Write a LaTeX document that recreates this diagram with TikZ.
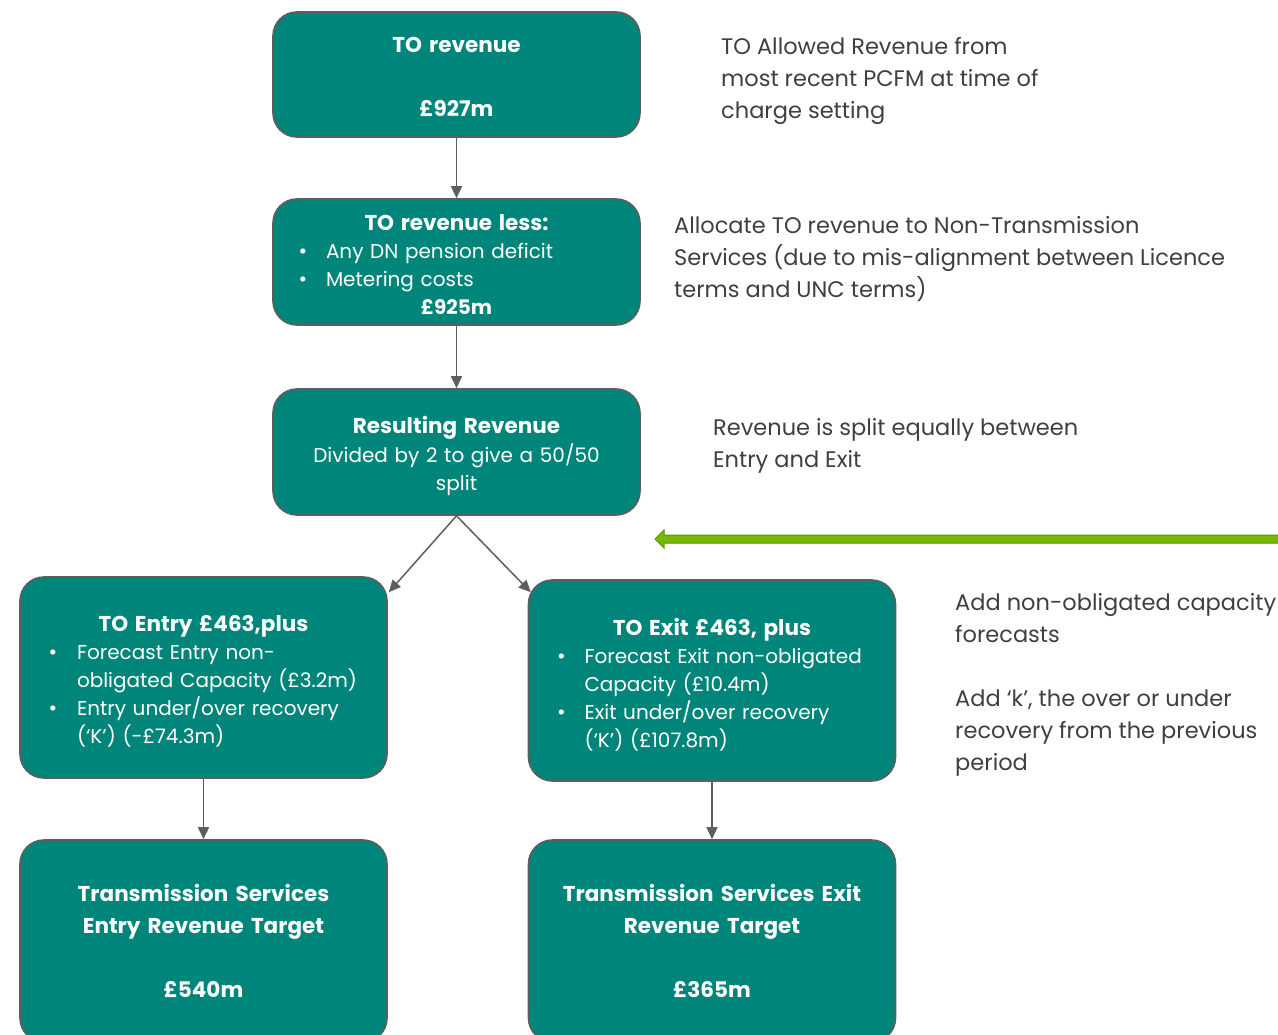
\documentclass[tikz,border=0pt]{standalone}
\usepackage{fontspec}
\setmainfont{Poppins}
\usetikzlibrary{arrows.meta,calc}
\definecolor{teal1}{HTML}{00857A}
\definecolor{edge1}{HTML}{5E5E5E}
\definecolor{txtgray}{HTML}{3F3F3F}
\definecolor{grn}{HTML}{76B900}
\definecolor{grnd}{HTML}{5A9300}
\newcommand\bitem[3]{\makebox[360pt][l]{\hspace{#1}\makebox[#2][l]{\fontsize{21}{21}\selectfont •}#3}}
\newcommand\citem[2]{\makebox[360pt][l]{\hspace{#1}#2}}
\begin{document}
\begin{tikzpicture}[x=1pt,y=-1pt,
  box/.style={draw=edge1,line width=1.6pt,fill=teal1,rounded corners=24pt,
    minimum width=367pt,inner sep=0pt},
  btext/.style={inner xsep=3.5pt,inner ysep=0pt,text width=360pt,
    align=center,text=white},
  note/.style={anchor=west,align=left,text=txtgray,inner sep=0pt,
    font=\fontsize{22.5}{32}\selectfont},
  conn/.style={draw=edge1,line width=1.5pt,-{Triangle[length=12pt,width=11pt]}}]
\useasboundingbox (0,0) rectangle (1278,1035);

% boxes
\node[box,minimum height=125pt] (b1) at (456.5,74.5) {};
\node[box,minimum height=126pt] (b2) at (456.5,262) {};
\node[box,minimum height=126pt] (b3) at (456.5,452) {};
\node[box,minimum height=201pt] (en) at (203.5,677.5) {};
\node[box,minimum height=201pt] (ex) at (712,680.5) {};
\node[box,minimum height=202pt] (tl) at (203.5,941) {};
\node[box,minimum height=202pt] (tr) at (712,941) {};

% box texts
\node[btext,font=\fontsize{21.5}{32}\selectfont\bfseries] (b1t) at ($(b1)+(0,2.5)$)
  {TO revenue\\[32pt]£927m};
\node[btext,font=\fontsize{20}{28}\selectfont] (b2t) at ($(b2)+(0,3)$)
  {{\fontsize{21.5}{29}\selectfont\bfseries TO revenue less:}\\
   \bitem{22pt}{27.5pt}{Any DN pension deficit}\\
   \bitem{22pt}{27.5pt}{Metering costs}\\
   {\bfseries£925m}};
\node[btext,font=\fontsize{20}{28.5}\selectfont] (b3t) at ($(b3)+(0,4)$)
  {{\fontsize{21.5}{29}\selectfont\bfseries Resulting Revenue}\\
   Divided by 2 to give a 50/50\\ split};
\node[btext,font=\fontsize{20}{28}\selectfont] (ent) at ($(en)+(0,4)$)
  {{\fontsize{21.5}{30}\selectfont\bfseries TO Entry £463,plus}\\
   \bitem{25pt}{28.5pt}{Forecast Entry non-}\\
   \citem{53.5pt}{obligated Capacity (£3.2m)}\\
   \bitem{25pt}{28.5pt}{Entry under/over recovery}\\
   \citem{53.5pt}{(‘K’) (-£74.3m)}};
\node[btext,font=\fontsize{20}{28}\selectfont] (ext) at ($(ex)+(0,4)$)
  {{\fontsize{21.5}{30}\selectfont\bfseries TO Exit £463, plus}\\
   \bitem{25pt}{27.5pt}{Forecast Exit non-obligated}\\
   \citem{52.5pt}{Capacity (£10.4m)}\\
   \bitem{25pt}{27.5pt}{Exit under/over recovery}\\
   \citem{52.5pt}{(‘K’) (£107.8m)}};
\node[btext,font=\fontsize{21.5}{32}\selectfont\bfseries] (tlt) at ($(tl)+(0,0)$)
  {Transmission Services\\ Entry Revenue Target\\[32pt]£540m};
\node[btext,font=\fontsize{21.5}{32}\selectfont\bfseries] (trt) at ($(tr)+(0,0)$)
  {Transmission Services Exit\\ Revenue Target\\[32pt]£365m};

% connectors
\coordinate (enin) at ($(en.north east)+(1,16)$);
\coordinate (exin) at ($(ex.north west)+(3,13)$);
\draw[conn] (b1.south) -- (b2.north);
\draw[conn] (b2.south) -- (b3.north);
\draw[conn] (b3.south) -- (enin);
\draw[conn] (b3.south) -- (exin);
\draw[conn] (en.south) -- (tl.north);
\draw[conn] (ex.south) -- (tr.north);

% notes
\node[note] (n1) at (721,81) {TO Allowed Revenue from\\ most recent PCFM at time of\\ charge setting};
\node[note] (n2) at (674,259) {Allocate TO revenue to Non-Transmission\\ Services (due to mis-alignment between Licence\\ terms and UNC terms)};
\node[note] (n3) at (713,446) {Revenue is split equally between\\ Entry and Exit};
\node[note] (n4) at (955,684.5) {Add non-obligated capacity\\ forecasts\\[32pt]Add ‘k’, the over or under\\ recovery from the previous\\ period};

% green arrow
\draw[fill=grn,draw=grnd,line width=1pt]
  (1282,535) -- (664,535) -- (664,530) -- (655,539) -- (664,548) -- (664,543) -- (1282,543) -- cycle;
\end{tikzpicture}
\end{document}
